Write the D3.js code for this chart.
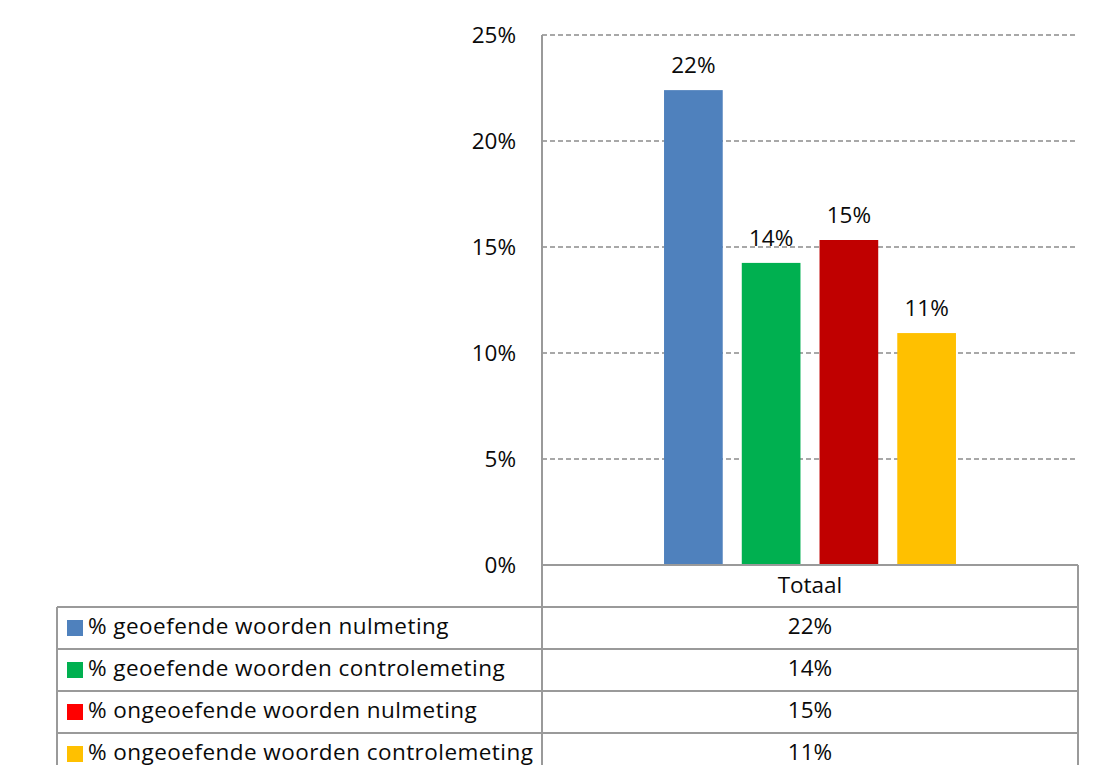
<!DOCTYPE html>
<html>
<head>
<meta charset="utf-8">
<title>Geoefende woorden</title>
<script src="https://d3js.org/d3.v7.min.js"></script>
<style>
  body { margin: 0; background: #fff; }
  svg text { font-family: "Open Sans", "Noto Sans", sans-serif; fill: #0a0a0a; }
</style>
</head>
<body>
<svg id="chart" width="1093" height="765"></svg>
<script>
// data
var categories = ["Totaal"];
var series = [
  "% geoefende woorden nulmeting",
  "% geoefende woorden controlemeting",
  "% ongeoefende woorden nulmeting",
  "% ongeoefende woorden controlemeting"
];
var values = [0.224, 0.1425, 0.1533, 0.1094];
var valueLabels = ["22%", "14%", "15%", "11%"];
var barColors = ["#4F81BD", "#00B050", "#C00000", "#FFC000"];
var keyColors = ["#4F81BD", "#00B050", "#FF0000", "#FFC000"];
var yTicks = [0, 0.05, 0.10, 0.15, 0.20, 0.25];

var svg = d3.select("#chart");
var plotL = 542, plotR = 1078, plotT = 35, plotB = 565;
var rowH = 42, tableLeft = 57;
var fs = 22.5;
var lineCol = "#9a9a9a";

var y = d3.scaleLinear().domain([0, 0.25]).range([plotB, plotT]);
var x0 = d3.scaleBand().domain(categories).range([plotL, plotR]).paddingOuter(0.418);
var x1 = d3.scaleBand().domain(series).range([0, x0.bandwidth()]).paddingInner(0.245);

// gridlines
svg.append("g").selectAll("line")
  .data(yTicks.filter(function(d) { return d > 0; }))
  .enter().append("line")
  .attr("x1", plotL).attr("x2", plotR)
  .attr("y1", function(d) { return y(d); }).attr("y2", function(d) { return y(d); })
  .attr("stroke", "#8c8c8c").attr("stroke-width", 1.4)
  .attr("stroke-dasharray", "5,3");

// y axis
var yAxis = d3.axisLeft(y).tickValues(yTicks).tickFormat(d3.format(".0%")).tickSize(0).tickPadding(26);
var ga = svg.append("g").attr("transform", "translate(" + plotL + ",0)").call(yAxis);
ga.select(".domain").remove();
ga.selectAll("text").style("font-size", fs + "px").attr("fill", "#0a0a0a")
  .style("font-family", "'Open Sans', 'Noto Sans', sans-serif");

// bars
var g = svg.append("g").attr("transform", "translate(" + x0(categories[0]) + ",0)");
g.selectAll("rect").data(values).enter().append("rect")
  .attr("x", function(d, i) { return x1(series[i]); })
  .attr("width", x1.bandwidth())
  .attr("y", function(d) { return y(d); })
  .attr("height", function(d) { return y(0) - y(d); })
  .attr("fill", function(d, i) { return barColors[i]; });

g.selectAll("text.lbl").data(values).enter().append("text")
  .attr("class", "lbl")
  .attr("x", function(d, i) { return x1(series[i]) + x1.bandwidth() / 2; })
  .attr("y", function(d) { return y(d) - 17; })
  .attr("text-anchor", "middle")
  .style("font-size", fs + "px")
  .text(function(d, i) { return valueLabels[i]; });

// data table
var tbl = svg.append("g");
// header row (only the value column)
tbl.append("text").attr("x", (plotL + plotR) / 2).attr("y", plotB + rowH / 2 + 7)
  .attr("text-anchor", "middle").style("font-size", fs + "px").text(categories[0]);

var rows = tbl.selectAll("g.row").data(series).enter().append("g")
  .attr("class", "row")
  .attr("transform", function(d, i) { return "translate(0," + (plotB + rowH * (i + 1)) + ")"; });

rows.append("rect").attr("x", tableLeft + 10).attr("y", rowH / 2 - 8)
  .attr("width", 16).attr("height", 16)
  .attr("fill", function(d, i) { return keyColors[i]; });
rows.append("text").attr("x", tableLeft + 31).attr("y", rowH / 2 + 6)
  .style("font-size", fs + "px").style("letter-spacing", "0.45px")
  .text(function(d) { return d; });
rows.append("text").attr("x", (plotL + plotR) / 2).attr("y", rowH / 2 + 6)
  .attr("text-anchor", "middle").style("font-size", fs + "px")
  .text(function(d, i) { return valueLabels[i]; });

// table lines
var hl = [];
hl.push([plotL, plotR, plotB]);
for (var i = 1; i <= series.length; i++) hl.push([tableLeft, plotR, plotB + rowH * i]);
tbl.selectAll("line.h").data(hl).enter().append("line")
  .attr("x1", function(d) { return d[0]; }).attr("x2", function(d) { return d[1]; })
  .attr("y1", function(d) { return d[2]; }).attr("y2", function(d) { return d[2]; })
  .attr("stroke", lineCol).attr("stroke-width", 2);
var vl = [[tableLeft, plotB + rowH, 765], [plotL, plotT, 765], [plotR, plotB, 765]];
tbl.selectAll("line.v").data(vl).enter().append("line")
  .attr("x1", function(d) { return d[0]; }).attr("x2", function(d) { return d[0]; })
  .attr("y1", function(d) { return d[1]; }).attr("y2", function(d) { return d[2]; })
  .attr("stroke", lineCol).attr("stroke-width", 2);
</script>
</body>
</html>
